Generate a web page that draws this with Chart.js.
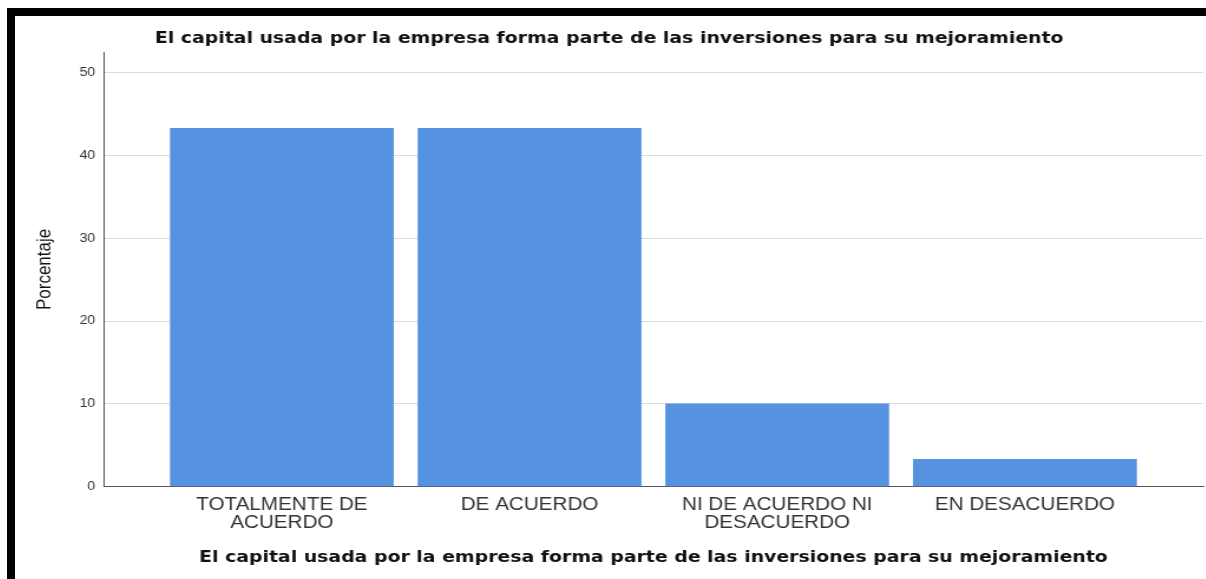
<!DOCTYPE html>
<html>
<head>
<meta charset="utf-8">
<script src="https://cdn.jsdelivr.net/npm/chart.js@4.4.1/dist/chart.umd.min.js"></script>
<style>
  html, body { margin: 0; padding: 0; background: #fff; }
  body { width: 1206px; height: 579px; position: relative; overflow: hidden; }
  .frame {
    position: absolute; left: 7px; top: 8px; right: 0; bottom: 0;
    border-top: 8px solid #000; border-left: 8px solid #000;
  }
  /* the source picture is stretched sideways, so the chart is too */
  .wrap {
    position: absolute; left: 15px; top: 16px;
    width: 1009px; height: 563px;
    transform: scaleX(1.18); transform-origin: 0 0;
  }
</style>
</head>
<body>
<div class="frame"></div>
<div class="wrap"><canvas id="myChart"></canvas></div>
<script>
const titleText = 'El capital usada por la empresa forma parte de las inversiones para su mejoramiento';
const categories = [['TOTALMENTE DE', 'ACUERDO'], 'DE ACUERDO', ['NI DE ACUERDO NI', 'DESACUERDO'], 'EN DESACUERDO'];
const percentages = [43.3, 43.3, 10.0, 3.3];
const yTicks = [0, 10, 20, 30, 40, 50];

const font = "'Liberation Sans', Arial, sans-serif";
const boldFont = "'DejaVu Sans', Verdana, sans-serif";

new Chart("myChart", {
  type: "bar",
  data: {
    datasets: [{
      data: percentages.map((v, i) => ({ x: i, y: v })),
      backgroundColor: "#5593e0",
      barThickness: 189
    }]
  },
  options: {
    responsive: true,
    maintainAspectRatio: false,
    animation: false,
    layout: { padding: { left: 0, right: 2, top: 0, bottom: 0 } },
    scales: {
      x: {
        type: "linear",
        offset: false,
        min: -0.72,
        max: 3.72,
        afterBuildTicks: scale => {
          scale.ticks = categories.map((c, i) => ({ value: i }));
        },
        ticks: {
          autoSkip: false,
          maxRotation: 0,
          padding: 10,
          color: "#333",
          font: { family: font, size: 17.5, lineHeight: 1.02 },
          callback: value => categories[value]
        },
        grid: { color: "rgba(0,0,0,0)", drawTicks: false },
        border: { display: true, color: "#555", width: 1 },
        title: {
          display: true,
          text: titleText,
          color: "#111",
          font: { family: boldFont, size: 16, weight: "bold", lineHeight: 1.2 },
          padding: { top: 5.5, bottom: 12 }
        }
      },
      y: {
        min: 0,
        max: 52.5,
        afterBuildTicks: scale => {
          scale.ticks = yTicks.map(v => ({ value: v }));
        },
        afterFit: scale => { scale.width = 75; },
        ticks: {
          padding: 7,
          color: "#333",
          font: { family: font, size: 12 }
        },
        grid: { color: "#dcdcdc", drawTicks: false },
        border: { display: true, color: "#555", width: 1 },
        title: {
          display: true,
          text: "Porcentaje",
          color: "#111",
          font: { family: font, size: 17, lineHeight: 1.2 },
          padding: { top: 15, bottom: 0 }
        }
      }
    },
    plugins: {
      legend: { display: false },
      tooltip: { enabled: false },
      title: {
        display: true,
        text: titleText,
        color: "#111",
        font: { family: boldFont, size: 16, weight: "bold", lineHeight: 1.2 },
        padding: { top: 13, bottom: 4 }
      }
    }
  }
});
</script>
</body>
</html>
